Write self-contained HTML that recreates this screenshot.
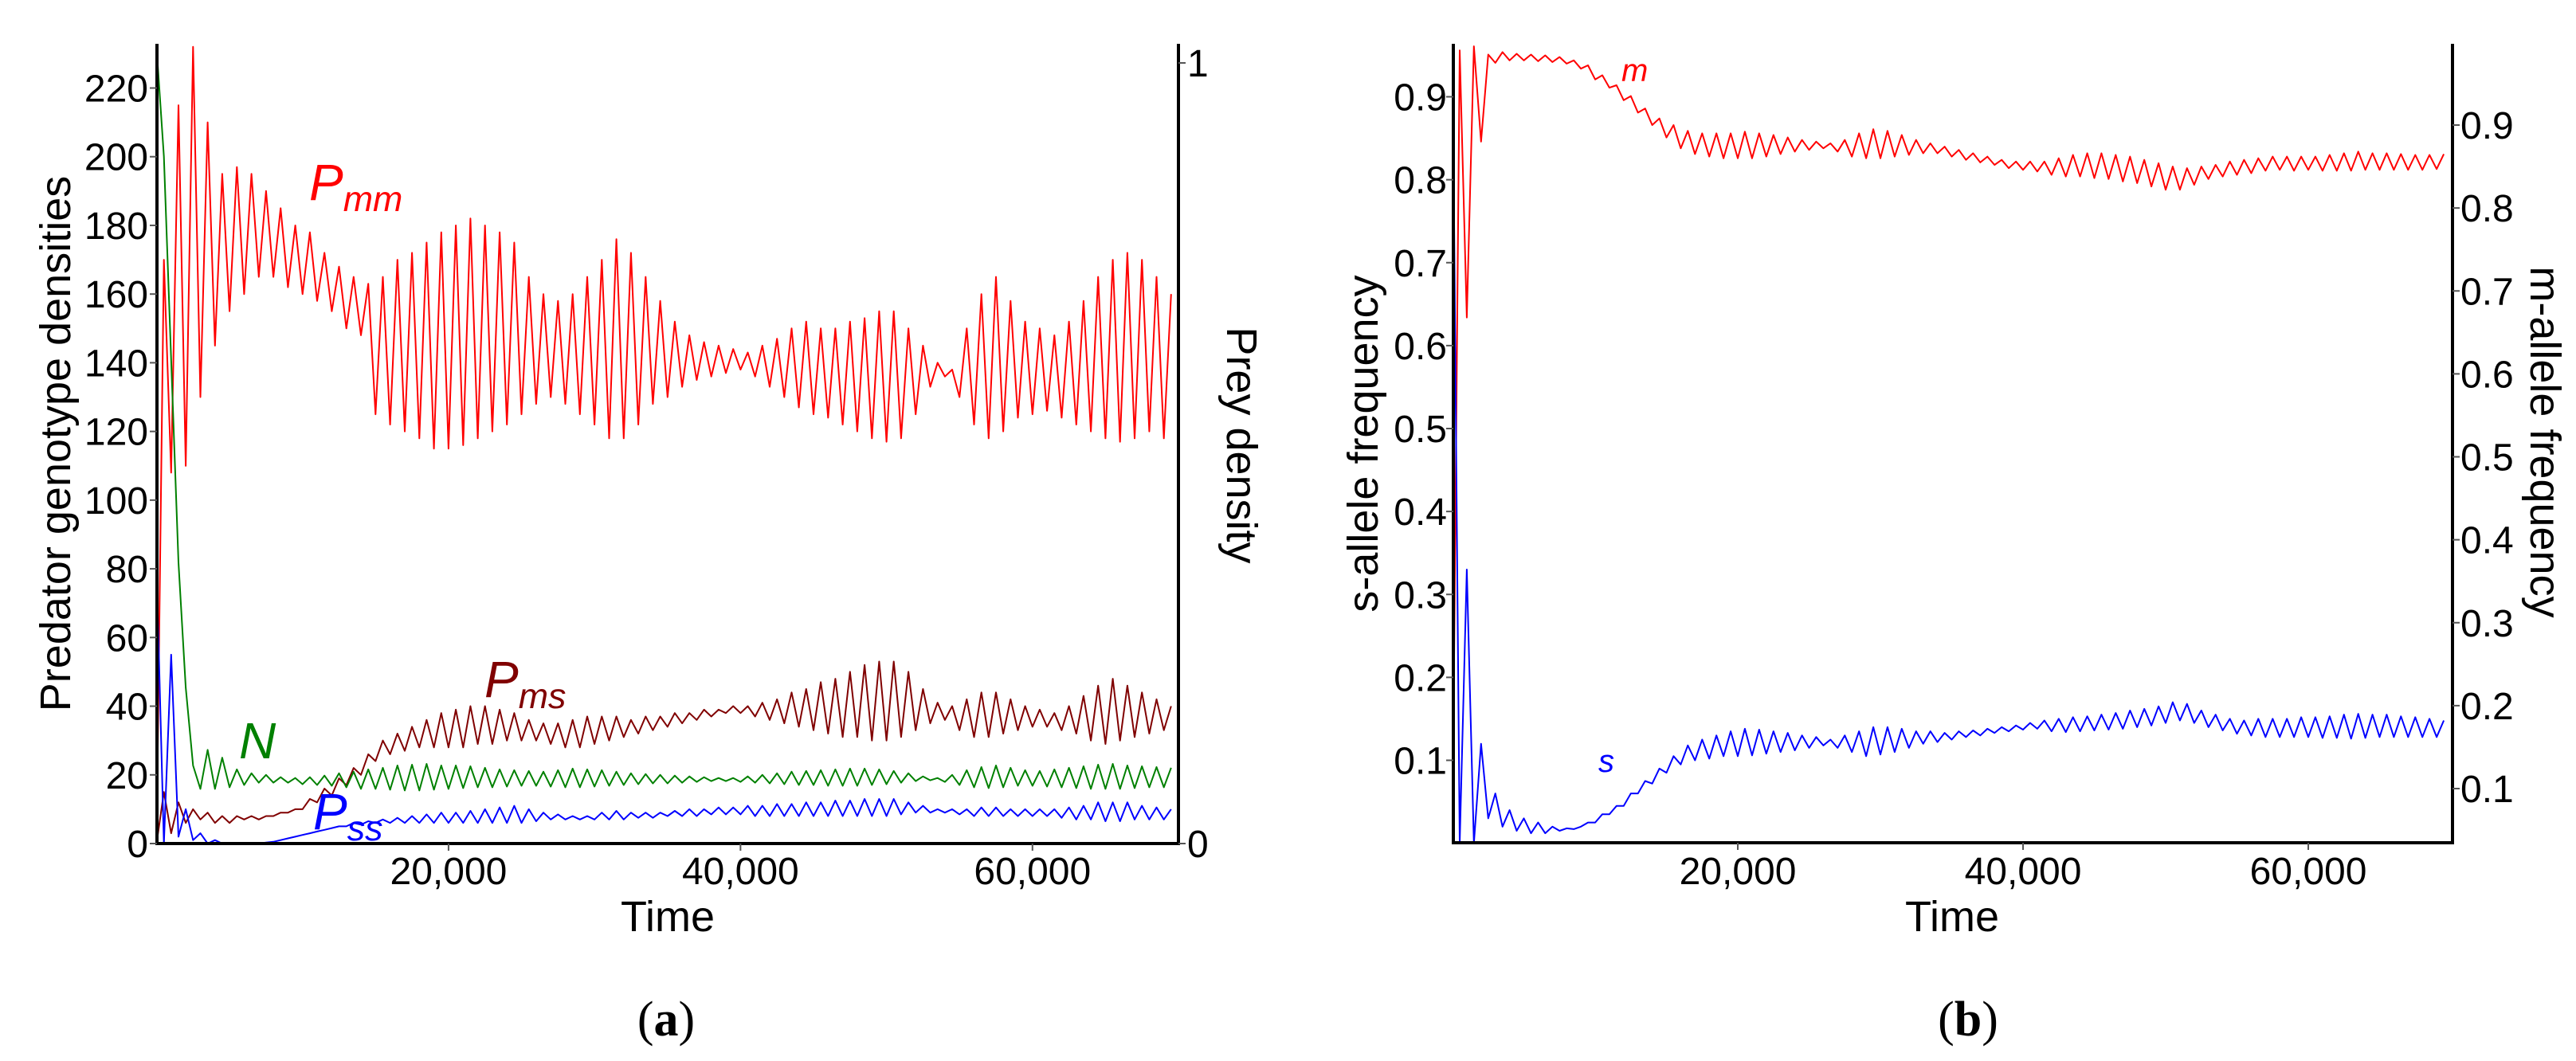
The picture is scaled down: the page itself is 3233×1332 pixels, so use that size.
<!DOCTYPE html>
<html><head><meta charset="utf-8"><style>
body{margin:0;background:#fff}
svg{display:block}
text{font-family:"Liberation Sans",sans-serif;fill:#000}
</style></head><body>
<svg id="fig" width="3233" height="1332" viewBox="0 0 3233 1332">
<defs>
<clipPath id="clipA"><rect x="197" y="55" width="1282" height="1004"/></clipPath>
<clipPath id="clipB"><rect x="1824" y="55" width="1254" height="1003"/></clipPath>
</defs>
<g id="panelA"></g>
<g id="panelB"></g>
<text x="836" y="1300" text-anchor="middle" style="font-family:'Liberation Serif',serif;font-size:62px">(<tspan font-weight="bold">a</tspan>)</text>
<text x="2470" y="1300" text-anchor="middle" style="font-family:'Liberation Serif',serif;font-size:62px">(<tspan font-weight="bold">b</tspan>)</text>
</svg>
<script>
const dt = 500;
const xTicks = [20000, 40000, 60000];
const xTickLabels = ["20,000", "40,000", "60,000"];
const yTicksA = [0,20,40,60,80,100,120,140,160,180,200,220];
const yTicksPrey = [0,1];
const yTicksB = [0.1,0.2,0.3,0.4,0.5,0.6,0.7,0.8,0.9];
const Pmm = [0,170,108,215,110,232,130,210,145,195,
155,197,160,195,165,190,165,185,162,180,
160,178,158,172,155,168,150,165,148,163,
125,165,122,170,120,172,118,175,115,178,
115,180,116,182,118,180,120,178,122,175,
125,165,128,160,130,158,128,160,125,165,
122,170,118,176,118,172,122,165,128,158,
130,152,133,148,135,146,136,145,137,144,
138,143,136,145,133,147,130,150,127,152,
125,150,124,150,122,152,120,153,118,155,
117,155,118,150,125,145,133,140,136,138,
130,150,122,160,118,165,120,158,124,152,
125,150,126,148,124,152,122,158,120,165,
118,170,117,172,118,170,120,165,118,160];
const Pms = [0,15,3,12,6,10,7,9,6,8,
6,8,7,8,7,8,8,9,9,10,
10,13,12,16,14,19,17,22,20,26,
24,30,26,32,27,34,28,36,28,38,
28,39,28,40,29,40,29,39,30,38,
30,36,30,35,29,35,28,36,28,37,
29,37,30,37,31,36,32,37,33,37,
34,38,35,38,36,39,37,39,38,40,
38,40,37,41,36,42,35,44,34,45,
33,47,32,48,31,50,31,52,30,53,
30,53,31,50,33,45,35,41,36,40,
33,42,31,44,31,44,32,42,33,40,
34,39,34,38,33,40,32,43,30,46,
29,48,30,46,31,44,32,42,33,40];
const Pss = [80,0,55,2,10,1,3,0,1,0,
0,0,0,0,0,0.3,0.5,1,1.5,2,
2.5,3,3.5,4,4.5,5,5,6,5.5,6.5,
6,7,6,7.5,6,8,6,8.5,6,9,
6,9,6,9.5,6,10,6,10.5,6,11,
6,10,6.5,9,7,8.5,7,8,7,8,
7,9,7,9.5,7,9,7.5,9,7.5,9,
8,9.5,8,10,8,10,8.5,10.5,8.5,10.5,
8.5,11,8,11,8,11.5,8,11.5,8,12,
8,12,8,12.5,8,12.5,8,13,8,13,
8,13,8.5,12,9,11,9,10,9,10,
8.5,10,8,10.5,8,10.5,8,10,8,10,
8,10,8,10,7.5,10.5,7,11,7,12,
6.5,12,6.5,12,7,11,7,10.5,7,10];
const Nprey = [1.02,0.88,0.62,0.36,0.2,0.1,0.07,0.12,0.07,0.11,
0.072,0.095,0.075,0.09,0.078,0.088,0.078,0.085,0.078,0.084,
0.076,0.085,0.075,0.087,0.074,0.09,0.072,0.092,0.07,0.095,
0.07,0.097,0.069,0.1,0.068,0.101,0.068,0.102,0.069,0.1,
0.07,0.1,0.071,0.099,0.072,0.097,0.072,0.095,0.073,0.094,
0.074,0.093,0.074,0.092,0.073,0.094,0.072,0.096,0.072,0.095,
0.073,0.094,0.074,0.092,0.075,0.09,0.076,0.089,0.077,0.088,
0.077,0.087,0.078,0.086,0.079,0.085,0.08,0.084,0.08,0.084,
0.079,0.086,0.078,0.088,0.077,0.09,0.076,0.092,0.075,0.093,
0.075,0.094,0.074,0.095,0.074,0.096,0.074,0.096,0.075,0.095,
0.076,0.093,0.078,0.09,0.08,0.086,0.081,0.084,0.079,0.088,
0.075,0.094,0.072,0.098,0.071,0.1,0.072,0.097,0.074,0.094,
0.074,0.093,0.073,0.095,0.072,0.097,0.071,0.099,0.07,0.101,
0.07,0.102,0.07,0.1,0.071,0.099,0.072,0.098,0.072,0.097];
const mFreq = [0.05,0.99,0.668,0.995,0.88,0.985,0.975,0.988,0.978,0.986,
0.978,0.985,0.977,0.984,0.976,0.982,0.974,0.978,0.968,0.972,
0.955,0.96,0.945,0.948,0.93,0.935,0.915,0.92,0.9,0.908,
0.885,0.9,0.872,0.893,0.865,0.89,0.862,0.89,0.86,0.89,
0.86,0.892,0.86,0.89,0.862,0.888,0.865,0.885,0.868,0.882,
0.87,0.88,0.872,0.878,0.868,0.882,0.862,0.89,0.86,0.895,
0.86,0.893,0.862,0.888,0.864,0.882,0.866,0.878,0.866,0.874,
0.862,0.87,0.858,0.866,0.855,0.862,0.852,0.858,0.848,0.856,
0.846,0.856,0.844,0.856,0.84,0.86,0.838,0.864,0.838,0.866,
0.836,0.866,0.835,0.864,0.832,0.862,0.83,0.858,0.826,0.854,
0.822,0.85,0.822,0.848,0.828,0.85,0.835,0.852,0.838,0.856,
0.84,0.858,0.842,0.86,0.845,0.862,0.846,0.862,0.845,0.862,
0.846,0.862,0.845,0.864,0.845,0.866,0.845,0.868,0.846,0.866,
0.846,0.866,0.846,0.865,0.846,0.864,0.846,0.864,0.847,0.865];
const sFreq = [0.96,0.0,0.33,0.0,0.12,0.03,0.06,0.02,0.04,0.015,
0.03,0.012,0.025,0.012,0.02,0.015,0.018,0.017,0.02,0.025,
0.025,0.035,0.035,0.045,0.045,0.06,0.06,0.075,0.072,0.09,
0.085,0.105,0.095,0.118,0.1,0.125,0.102,0.13,0.105,0.135,
0.105,0.138,0.106,0.137,0.108,0.135,0.11,0.133,0.112,0.13,
0.115,0.128,0.118,0.125,0.115,0.13,0.11,0.135,0.105,0.14,
0.107,0.14,0.11,0.138,0.115,0.135,0.12,0.135,0.122,0.133,
0.125,0.135,0.128,0.136,0.13,0.138,0.133,0.14,0.135,0.142,
0.137,0.145,0.138,0.148,0.135,0.15,0.134,0.152,0.135,0.153,
0.136,0.155,0.137,0.157,0.138,0.16,0.14,0.162,0.142,0.165,
0.145,0.17,0.148,0.168,0.145,0.16,0.14,0.155,0.136,0.15,
0.132,0.148,0.13,0.15,0.128,0.15,0.128,0.15,0.128,0.152,
0.128,0.152,0.127,0.153,0.127,0.155,0.126,0.156,0.127,0.155,
0.128,0.155,0.128,0.153,0.128,0.152,0.128,0.15,0.128,0.148];

const NS = "http://www.w3.org/2000/svg";
function mk(tag, attrs, parent){const e=document.createElementNS(NS,tag);for(const k in attrs)e.setAttribute(k,attrs[k]);parent.appendChild(e);return e;}
function lin(d0,d1,r0,r1){return v=>r0+(v-d0)/(d1-d0)*(r1-r0);}

const gA=document.getElementById('panelA');
const xA=lin(0,70000,196.5,1479);
const yA=lin(0,220,1059,110.5);
const yPrey=lin(0,1,1059,79);
const gB=document.getElementById('panelB');
const xB=lin(0,70000,1823,3076);
const ySL=lin(0.1,0.9,954.5,121.5);
const yMR=lin(0.1,0.9,990,157);

function series(g,arr,xs,ys,color,name,clip){
  const pts=arr.map((v,i)=>xs(i*dt).toFixed(1)+','+ys(v).toFixed(1)).join(' ');
  const p=mk('polyline',{points:pts,fill:'none',stroke:color,'stroke-width':2,'stroke-linejoin':'round','clip-path':clip},g);
  
  
}
series(gA,Pmm,xA,yA,'#ff0000','line-pmm','url(#clipA)');
series(gA,Pms,xA,yA,'#800000','line-pms','url(#clipA)');
series(gA,Nprey,xA,yPrey,'#008000','line-n','url(#clipA)');
series(gA,Pss,xA,yA,'#0000ff','line-pss','url(#clipA)');
series(gB,mFreq,xB,yMR,'#ff0000','line-m','url(#clipB)');
series(gB,sFreq,xB,ySL,'#0000ff','line-s','url(#clipB)');

function axisLines(g,x0,x1,y0,y1,prefix){
  const a=mk('line',{x1:x0,y1:y0,x2:x0,y2:y1,stroke:'#000','stroke-width':4},g);
  
  
  const b=mk('line',{x1:x1,y1:y0,x2:x1,y2:y1,stroke:'#000','stroke-width':4},g);
  
  
  const c=mk('line',{x1:x0-2,y1:y1,x2:x1+2,y2:y1,stroke:'#000','stroke-width':4},g);
  
  
}
axisLines(gA,197,1479,55,1059,'a');
axisLines(gB,1824,3078,55,1058,'b');

function txt(g,s,x,y,anchor,size,name,rot){
  const t=mk('text',{x:x,y:y,'text-anchor':anchor,'font-size':size},g);
  if(rot!==undefined)t.setAttribute('transform','rotate('+rot+' '+x+' '+y+')');
  t.textContent=s;
  
  
  return t;
}
xTicks.forEach((v,i)=>{
  mk('line',{x1:xA(v),y1:1059,x2:xA(v),y2:1068,stroke:'#555','stroke-width':2},gA);
  txt(gA,xTickLabels[i],xA(v),1110,'middle',48,'a-x-tick-label');
  mk('line',{x1:xB(v),y1:1058,x2:xB(v),y2:1067,stroke:'#555','stroke-width':2},gB);
  txt(gB,xTickLabels[i],xB(v),1110,'middle',48,'b-x-tick-label');
});
yTicksA.forEach(v=>{
  mk('line',{x1:188,y1:yA(v),x2:197,y2:yA(v),stroke:'#555','stroke-width':2},gA);
  txt(gA,String(v),186,yA(v)+17,'end',48,'a-y-tick-label');
});
yTicksPrey.forEach(v=>{
  mk('line',{x1:1479,y1:yPrey(v),x2:1488,y2:yPrey(v),stroke:'#555','stroke-width':2},gA);
  txt(gA,String(v),1490,yPrey(v)+17,'start',48,'a-prey-tick-label');
});
yTicksB.forEach(v=>{
  mk('line',{x1:1815,y1:ySL(v),x2:1824,y2:ySL(v),stroke:'#555','stroke-width':2},gB);
  txt(gB,v.toFixed(1),1816,ySL(v)+17,'end',48,'b-left-tick-label');
  mk('line',{x1:3078,y1:yMR(v),x2:3087,y2:yMR(v),stroke:'#555','stroke-width':2},gB);
  txt(gB,v.toFixed(1),3088,yMR(v)+17,'start',48,'b-right-tick-label');
});
txt(gA,'Time',838,1169,'middle',54,'a-x-axis-title');
txt(gB,'Time',2450,1169,'middle',54,'b-x-axis-title');
txt(gA,'Predator genotype densities',88,557,'middle',54,'a-y-axis-title',-90);
txt(gA,'Prey density',1540,559,'middle',54,'a-prey-axis-title',90);
txt(gB,'s-allele frequency',1729,557,'middle',54,'b-left-axis-title',-90);
txt(gB,'m-allele frequency',3176,555,'middle',54,'b-right-axis-title',90);

function seriesLabel(g,main,sub,x,y,color,size,name){
  const t=mk('text',{x:x,y:y,'font-size':size,'font-style':'italic',fill:color},g);
  t.style.fill=color;
  const a=mk('tspan',{},t);a.textContent=main;
  if(sub){const b=mk('tspan',{'font-size':size*0.7,dy:size*0.22},t);b.textContent=sub;}
  
  
}
seriesLabel(gA,'P','mm',388,251,'#ff0000',64,'label-pmm');
seriesLabel(gA,'P','ms',608,875,'#800000',64,'label-pms');
seriesLabel(gA,'N','',300,952,'#008000',64,'label-n');
seriesLabel(gA,'P','ss',393,1041,'#0000ff',64,'label-pss');
seriesLabel(gB,'m','',2035,102,'#ff0000',40,'label-m');
seriesLabel(gB,'s','',2006,969,'#0000ff',40,'label-s');
</script>
</body></html>
